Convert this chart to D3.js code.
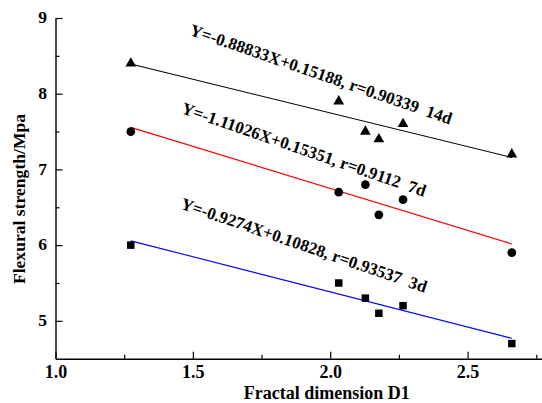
<!DOCTYPE html>
<html><head><meta charset="utf-8">
<script src="https://cdn.jsdelivr.net/npm/d3@7"></script>
<style>
html,body{margin:0;padding:0;background:#fff;}
svg{display:block;}
text{font-family:"Liberation Serif","Times New Roman",serif;font-weight:bold;fill:#000;}
</style></head>
<body>
<svg id="c" width="542" height="403"></svg>
<script>
// ---- data ----
const fractalD1 = [1.274, 2.031, 2.128, 2.177, 2.265, 2.661];
const strength14d = [8.4, 7.9, 7.5, 7.4, 7.6, 7.2];
const strength7d  = [7.5, 6.7, 6.8, 6.4, 6.6, 5.9];
const strength3d  = [6.0, 5.5, 5.3, 5.1, 5.2, 4.7];
const seriesNames = ["14d", "7d", "3d"];
const equationLabels = [
  "Y=-0.88833X+0.15188, r=0.90339\u00A0\u00A014d",
  "Y=-1.11026X+0.15351, r=0.9112\u00A0\u00A07d",
  "Y=-0.9274X+0.10828, r=0.93537\u00A0\u00A03d"
];
const xTicks = [1.0, 1.5, 2.0, 2.5];
const xMinorTicks = [1.25, 1.75, 2.25, 2.75];
const yTicks = [5, 6, 7, 8, 9];
const yMinorTicks = [5.5, 6.5, 7.5, 8.5];
const xTitle = "Fractal dimension D1";
const yTitle = "Flexural strength/Mpa";
// label anchor in data space
const labelX = [1.485, 1.455, 1.452];
const labelY = [8.78, 7.745, 6.485];

// ---- layout ----
const FONT = '"Liberation Serif","Times New Roman",serif';
const svg = d3.select("#c");
const x = d3.scaleLinear().domain([1.0, 2.8]).range([55.5, 550]);
const y = d3.scaleLinear().domain([4.5, 9]).range([358.7, 18]);

const series = [
  {name: seriesNames[0], vals: strength14d, color: "#000000", sym: d3.symbolTriangle, size: 50},
  {name: seriesNames[1], vals: strength7d,  color: "#ff0000", sym: d3.symbolCircle, size: 60},
  {name: seriesNames[2], vals: strength3d,  color: "#0000ff", sym: d3.symbolSquare, size: 56}
];

function fit(xs, ys) {
  const mx = d3.mean(xs), my = d3.mean(ys);
  let sxy = 0, sxx = 0;
  xs.forEach((v, i) => { sxy += (v - mx) * (ys[i] - my); sxx += (v - mx) * (v - mx); });
  const b = sxy / sxx;
  return {b, a: my - b * mx};
}

// axes
const yAxis = svg.append("g").attr("transform", `translate(${x.range()[0]},0)`)
  .call(d3.axisLeft(y).tickValues(yTicks).tickSize(-7).tickSizeOuter(0).tickFormat(d3.format("d")));
svg.append("g").attr("transform", `translate(${x.range()[0]},0)`)
  .call(d3.axisLeft(y).tickValues(yMinorTicks).tickSize(-4).tickSizeOuter(0).tickFormat(""))
  .select(".domain").remove();
const xAxis = svg.append("g").attr("transform", `translate(0,${y.range()[0]})`)
  .call(d3.axisBottom(x).tickValues(xTicks).tickSize(-7).tickSizeOuter(0).tickFormat(d3.format(".1f")));
svg.append("g").attr("transform", `translate(0,${y.range()[0]})`)
  .call(d3.axisBottom(x).tickValues(xMinorTicks).tickSize(-4).tickSizeOuter(0).tickFormat(""))
  .select(".domain").remove();

svg.selectAll(".domain").attr("stroke", "#000").attr("stroke-width", 1.4);
svg.selectAll(".tick line").attr("stroke", "#000").attr("stroke-width", 1.2);

yAxis.selectAll(".tick text")
  .attr("x", -8.6).attr("y", 4.8).attr("dy", 0)
  .style("font-size", "17.5px").style("font-family", FONT).style("font-weight", "bold");
xAxis.selectAll(".tick text")
  .attr("x", 0).attr("y", 19.5).attr("dy", 0)
  .style("font-size", "18px").style("font-family", FONT).style("font-weight", "bold");

// axis titles
svg.append("text")
  .attr("text-anchor", "middle")
  .attr("x", 326.7).attr("y", 398.8)
  .style("font-size", "18px")
  .text(xTitle);
svg.append("text")
  .attr("text-anchor", "middle")
  .attr("transform", `translate(24.5,199) rotate(-90)`)
  .style("font-size", "17.6px")
  .text(yTitle);

// regression lines + points
series.forEach((s) => {
  const f = fit(fractalD1, s.vals);
  const x0 = d3.min(fractalD1), x1 = d3.max(fractalD1);
  svg.append("line")
    .attr("x1", x(x0)).attr("y1", y(f.a + f.b * x0))
    .attr("x2", x(x1)).attr("y2", y(f.a + f.b * x1))
    .attr("stroke", s.color).attr("stroke-width", 1.1);
});
series.forEach((s) => {
  svg.append("g").selectAll("path")
    .data(fractalD1.map((d, i) => [d, s.vals[i]]))
    .join("path")
    .attr("d", d3.symbol().type(s.sym).size(s.size))
    .attr("transform", d => `translate(${x(d[0])},${y(d[1])})`)
    .attr("fill", "#000");
});

// equation labels
equationLabels.forEach((t, i) => {
  svg.append("text")
    .attr("transform", `translate(${x(labelX[i])},${y(labelY[i])}) rotate(19)`)
    .style("font-size", "17px")
    .text(t);
});
</script>
</body></html>
